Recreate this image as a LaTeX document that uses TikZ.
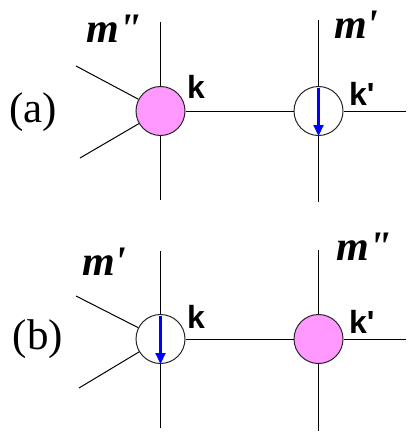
\documentclass[tikz,border=0pt]{standalone}
\usepackage{fontspec}
\setmainfont{Liberation Serif}[Ligatures=NoCommon]
\newfontfamily\ksans{Liberation Sans Bold}
\newfontfamily\mserif{Liberation Serif Bold Italic}
\usetikzlibrary{arrows.meta}
\definecolor{vpink}{RGB}{255,153,255}
\definecolor{vblue}{RGB}{0,0,255}
\begin{document}
\begin{tikzpicture}[x=1pt,y=-1pt,
  wire/.style={line width=1pt, black},
  vtx/.style={circle, draw=black!85, line width=1pt, minimum size=49pt, inner sep=0pt},
  fullvtx/.style={vtx, fill=vpink},
  emptyvtx/.style={vtx, fill=white},
  spin/.style={draw=vblue, line width=2.2pt, -{Triangle[length=11pt,width=10pt]}},
  mlab/.style={font=\mserif\fontsize{42}{42}\selectfont, anchor=base west, inner sep=0pt},
  klab/.style={font=\ksans\fontsize{32}{32}\selectfont, anchor=base west, inner sep=0pt},
  plab/.style={font=\fontsize{43}{43}\selectfont, anchor=base, inner sep=0pt}]
\useasboundingbox (0,0) rectangle (415,436);
% ---------- (a) ----------
\coordinate (a1t) at (160.5,22);
\coordinate (a1b) at (160.5,200);
\coordinate (a1u) at (76,66);
\coordinate (a1l) at (80,158);
\coordinate (a2t) at (318.5,20);
\coordinate (a2b) at (318.5,202);
\coordinate (a2r) at (406,111);
\node[fullvtx] (A1) at (160.5,111) {};
\node[emptyvtx] (A2) at (318.5,111) {};
\draw[wire] (A1.north) -- (a1t);
\draw[wire] (A1.south) -- (a1b);
\draw[wire] (a1u) -- (A1);
\draw[wire] (a1l) -- (A1);
\draw[wire] (A1.east) -- (A2.west);
\draw[wire] (A2.north) -- (a2t);
\draw[wire] (A2.south) -- (a2b);
\draw[wire] (A2.east) -- (a2r);
\draw[spin] ([yshift=-2pt]A2.north) -- (A2.south);
\node[plab] (pa) at (33,122) {(a)};
\node[mlab] (ma1) at (86,43) {m{\char"22}};
\node[mlab] (ma2) at (334,38) {m{\char"27}};
\node[klab] (ka1) at (187,98) {k};
\node[klab] (ka2) at (349,105) {k{\char"27}};
% ---------- (b) ----------
\coordinate (b1t) at (160.5,251);
\coordinate (b1b) at (160.5,428);
\coordinate (b1u) at (76,296);
\coordinate (b1l) at (79,388);
\coordinate (b2t) at (318.5,250);
\coordinate (b2b) at (318.5,431);
\coordinate (b2r) at (406,339);
\node[emptyvtx] (B1) at (160.5,339) {};
\node[fullvtx] (B2) at (318.5,339) {};
\draw[wire] (B1.north) -- (b1t);
\draw[wire] (B1.south) -- (b1b);
\draw[wire] (b1u) -- (B1);
\draw[wire] (b1l) -- (B1);
\draw[wire] (B1.east) -- (B2.west);
\draw[wire] (B2.north) -- (b2t);
\draw[wire] (B2.south) -- (b2b);
\draw[wire] (B2.east) -- (b2r);
\draw[spin] ([yshift=-2pt]B1.north) -- (B1.south);
\node[plab] (pb) at (38,349) {(b)};
\node[mlab] (mb1) at (82,275) {m{\char"27}};
\node[mlab] (mb2) at (336,260) {m{\char"22}};
\node[klab] (kb1) at (187,328) {k};
\node[klab] (kb2) at (349,333) {k{\char"27}};
\end{tikzpicture}
\end{document}
